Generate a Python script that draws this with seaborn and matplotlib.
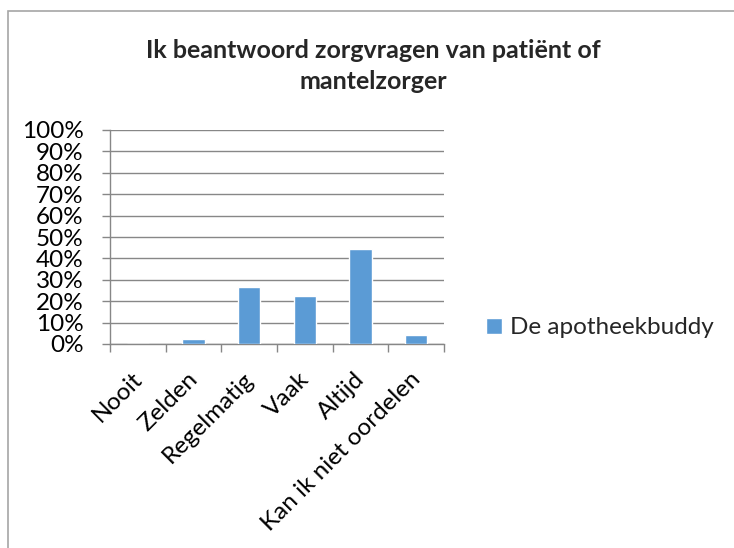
import matplotlib
matplotlib.use("Agg")
import matplotlib.pyplot as plt
import matplotlib.transforms as mtransforms
import seaborn as sns
import pandas as pd
from matplotlib.patches import Rectangle
from matplotlib.ticker import FixedLocator, PercentFormatter

categories = ["Nooit", "Zelden", "Regelmatig", "Vaak", "Altijd", "Kan ik niet oordelen"]
values = [0.0, 2.2, 26.7, 22.2, 44.4, 4.4]
series_name = "De apotheekbuddy"
title = "Ik beantwoord zorgvragen van patiënt of\nmantelzorger"

sns.set_theme(style="white")
plt.rcParams["font.family"] = ["Lato", "DejaVu Sans"]

df = pd.DataFrame({"cat": categories, "val": values, "series": series_name})

fig = plt.figure(figsize=(7.34, 5.48), dpi=100)
ax = fig.add_axes([110/734, 1-344/548, (444-110)/734, (344-130)/548])

grid_c = "#878787"
sns.barplot(data=df, x="cat", y="val", hue="series", palette=["#5B9BD5"],
            saturation=1, width=0.4, ax=ax, legend=True, zorder=3)

ax.set_ylim(0, 100)
ax.set_xlim(-0.5, len(categories) - 0.5)
ax.yaxis.set_major_locator(FixedLocator(list(range(0, 101, 10))))
ax.yaxis.set_major_formatter(PercentFormatter(decimals=0))
ax.grid(axis="y", color=grid_c, linewidth=1.0, zorder=0)
ax.set_axisbelow(True)
ax.set_xlabel("")
ax.set_ylabel("")

for s in ["top", "right"]:
    ax.spines[s].set_visible(False)
for s in ["left", "bottom"]:
    ax.spines[s].set_color(grid_c)
    ax.spines[s].set_linewidth(1.0)

fs = 17.5
ax.tick_params(axis="y", which="major", left=True, length=6, width=1.0, color=grid_c,
               labelsize=fs, pad=13, labelcolor="black")
ax.set_xticks(range(len(categories)))
ax.set_xticklabels(categories, rotation=45, ha="right", va="center", rotation_mode="anchor")
ax.set_xticks([i - 0.5 for i in range(len(categories) + 1)], minor=True)
ax.tick_params(axis="x", which="major", bottom=False, labelsize=fs, pad=17, labelcolor="black")
ax.tick_params(axis="x", which="minor", bottom=True, length=6, width=1.0, color=grid_c)
shift = mtransforms.ScaledTranslation(1/100, 0, fig.dpi_scale_trans)
for lab in ax.get_xticklabels():
    lab.set_transform(lab.get_transform() + shift)

leg = ax.legend(loc="center left", bbox_to_anchor=(476/734, 1-328/548),
                bbox_transform=fig.transFigure, frameon=False, fontsize=fs,
                handlelength=0.65, handleheight=0.65, handletextpad=0.35, borderaxespad=0)

fig.text(373/734, 1-66/548, title, ha="center", va="center", fontsize=18,
         fontweight="bold", linespacing=1.45)

fig.patches.append(Rectangle((7.5/734, -0.1), 1.2, 1.1 - 11/548, transform=fig.transFigure,
                             fill=False, edgecolor="#A6A6A6", linewidth=1.2))

fig.savefig("out.png", dpi=100)
